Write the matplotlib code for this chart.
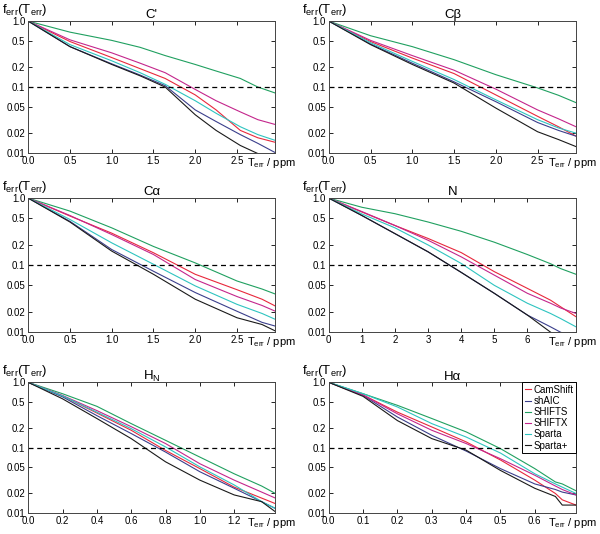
import numpy as np
import matplotlib
matplotlib.use("Agg")
import matplotlib.pyplot as plt

plt.rcParams['font.family'] = ['Liberation Sans', 'DejaVu Sans']
plt.rcParams['mathtext.fontset'] = 'custom'
plt.rcParams['mathtext.rm'] = 'Liberation Sans'
plt.rcParams['mathtext.it'] = 'Liberation Sans'

# series names and colours
methods = ["CamShift", "shAIC", "SHIFTS", "SHIFTX", "Sparta", "Sparta+"]
colors = ["#e8283c", "#3b3f8c", "#20a060", "#c4268c", "#2ec4c0", "#1a1a1a"]

# ---- C' ----
co_x        = [0.0, 0.5, 1.0, 1.34, 1.64, 2.0, 2.25, 2.54, 2.75, 2.96]
co_camshift = [1.0, 0.49, 0.28, 0.19, 0.135, 0.076, 0.045, 0.022, 0.017, 0.0145]
co_shaic    = [1.0, 0.41, 0.225, 0.152, 0.105, 0.045, 0.030, 0.019, 0.014, 0.0101]
co_shifts   = [1.0, 0.68, 0.51, 0.40, 0.30, 0.22, 0.175, 0.135, 0.10, 0.081]
co_shiftx   = [1.0, 0.52, 0.33, 0.23, 0.165, 0.092, 0.062, 0.042, 0.032, 0.027]
co_sparta   = [1.0, 0.44, 0.25, 0.165, 0.11, 0.062, 0.040, 0.025, 0.019, 0.0155]
co_spartap  = [1.0, 0.41, 0.22, 0.148, 0.10, 0.038, 0.022, 0.013, 0.0098, 0.0085]

# ---- Cbeta ----
cb_x        = [0.0, 0.5, 1.0, 1.5, 2.0, 2.5, 2.75, 2.96]
cb_camshift = [1.0, 0.49, 0.275, 0.16, 0.076, 0.036, 0.025, 0.018]
cb_shaic    = [1.0, 0.45, 0.23, 0.12, 0.060, 0.029, 0.022, 0.018]
cb_shifts   = [1.0, 0.60, 0.41, 0.26, 0.154, 0.097, 0.075, 0.058]
cb_shiftx   = [1.0, 0.51, 0.30, 0.18, 0.093, 0.045, 0.033, 0.025]
cb_sparta   = [1.0, 0.47, 0.245, 0.13, 0.064, 0.032, 0.024, 0.020]
cb_spartap  = [1.0, 0.44, 0.22, 0.115, 0.048, 0.021, 0.016, 0.0125]

# ---- Calpha ----
ca_x        = [0.0, 0.5, 1.0, 1.5, 2.0, 2.5, 2.8, 2.96]
ca_camshift = [1.0, 0.54, 0.30, 0.153, 0.073, 0.043, 0.031, 0.0245]
ca_shaic    = [1.0, 0.45, 0.171, 0.081, 0.039, 0.0205, 0.014, 0.0123]
ca_shifts   = [1.0, 0.64, 0.36, 0.19, 0.108, 0.058, 0.044, 0.037]
ca_shiftx   = [1.0, 0.55, 0.286, 0.144, 0.061, 0.034, 0.025, 0.0205]
ca_sparta   = [1.0, 0.48, 0.215, 0.103, 0.049, 0.026, 0.019, 0.0155]
ca_spartap  = [1.0, 0.44, 0.162, 0.073, 0.031, 0.0164, 0.013, 0.0104]

# ---- N ----
n_x         = [0.0, 1.0, 2.0, 3.0, 4.0, 5.0, 6.0, 6.7, 7.0, 7.47]
n_camshift  = [1.0, 0.62, 0.39, 0.25, 0.154, 0.080, 0.045, 0.030, 0.024, 0.017]
n_shaic     = [1.0, 0.55, 0.295, 0.158, 0.078, 0.038, 0.018, 0.012, 0.010, 0.008]
n_shifts    = [1.0, 0.73, 0.585, 0.44, 0.32, 0.22, 0.144, 0.105, 0.089, 0.073]
n_shiftx    = [1.0, 0.63, 0.39, 0.235, 0.133, 0.071, 0.038, 0.027, 0.023, 0.019]
n_sparta    = [1.0, 0.58, 0.36, 0.20, 0.106, 0.050, 0.027, 0.019, 0.016, 0.012]
n_spartap   = [1.0, 0.55, 0.295, 0.158, 0.078, 0.038, 0.018, 0.010, 0.008, 0.006]

# ---- HN ----
hn_x        = [0.0, 0.2, 0.4, 0.6, 0.8, 1.0, 1.2, 1.36, 1.44]
hn_camshift = [1.0, 0.62, 0.34, 0.185, 0.091, 0.048, 0.025, 0.017, 0.014]
hn_shaic    = [1.0, 0.60, 0.31, 0.165, 0.086, 0.043, 0.024, 0.015, 0.0118]
hn_shifts   = [1.0, 0.67, 0.43, 0.234, 0.13, 0.072, 0.040, 0.026, 0.020]
hn_shiftx   = [1.0, 0.63, 0.37, 0.21, 0.116, 0.057, 0.032, 0.021, 0.017]
hn_sparta   = [1.0, 0.62, 0.35, 0.196, 0.103, 0.051, 0.027, 0.015, 0.0118]
hn_spartap  = [1.0, 0.56, 0.28, 0.138, 0.061, 0.032, 0.019, 0.015, 0.0105]

# ---- Halpha ----
ha_x        = [0.0, 0.1, 0.2, 0.3, 0.4, 0.5, 0.6, 0.66, 0.68, 0.72]
ha_camshift = [1.0, 0.64, 0.35, 0.208, 0.123, 0.065, 0.032, 0.020, 0.016, 0.0133]
ha_shaic    = [1.0, 0.63, 0.295, 0.155, 0.089, 0.048, 0.028, 0.023, 0.021, 0.019]
ha_shifts   = [1.0, 0.67, 0.445, 0.28, 0.175, 0.097, 0.048, 0.030, 0.028, 0.022]
ha_shiftx   = [1.0, 0.64, 0.33, 0.185, 0.116, 0.068, 0.038, 0.026, 0.023, 0.019]
ha_sparta   = [1.0, 0.67, 0.42, 0.234, 0.146, 0.083, 0.040, 0.028, 0.025, 0.020]
ha_spartap  = [1.0, 0.61, 0.26, 0.138, 0.092, 0.045, 0.024, 0.018, 0.0133, 0.0133]

panels = [
    ("C'", co_x, [co_camshift, co_shaic, co_shifts, co_shiftx, co_sparta, co_spartap],
     2.96, [0.0, 0.5, 1.0, 1.5, 2.0, 2.5], "%.1f"),
    ("C\u03b2", cb_x, [cb_camshift, cb_shaic, cb_shifts, cb_shiftx, cb_sparta, cb_spartap],
     2.96, [0.0, 0.5, 1.0, 1.5, 2.0, 2.5], "%.1f"),
    ("C\u03b1", ca_x, [ca_camshift, ca_shaic, ca_shifts, ca_shiftx, ca_sparta, ca_spartap],
     2.96, [0.0, 0.5, 1.0, 1.5, 2.0, 2.5], "%.1f"),
    ("N", n_x, [n_camshift, n_shaic, n_shifts, n_shiftx, n_sparta, n_spartap],
     7.47, [0, 1, 2, 3, 4, 5, 6], "%d"),
    ("H$_\\mathrm{N}$", hn_x, [hn_camshift, hn_shaic, hn_shifts, hn_shiftx, hn_sparta, hn_spartap],
     1.44, [0.0, 0.2, 0.4, 0.6, 0.8, 1.0, 1.2], "%.1f"),
    ("H\u03b1", ha_x, [ha_camshift, ha_shaic, ha_shifts, ha_shiftx, ha_sparta, ha_spartap],
     0.72, [0.0, 0.1, 0.2, 0.3, 0.4, 0.5, 0.6], "%.1f"),
]

yticks = [1.0, 0.5, 0.2, 0.1, 0.05, 0.02, 0.01]
ytick_labels = ["1.0", "0.5", "0.2", "0.1", "0.05", "0.02", "0.01"]

fig = plt.figure(figsize=(6.0, 5.34), dpi=100)

# axes boxes in figure fractions (left, bottom, width, height)
lefts = [0.047, 0.548]
rows = [(0.7135, 0.247), (0.378, 0.251), (0.039, 0.245)]

for i, (title, xs, ys, xmax, xt, fmt) in enumerate(panels):
    r, c = divmod(i, 2)
    ax = fig.add_axes([lefts[c], rows[r][0], 0.412, rows[r][1]])
    for y, col, name in zip(ys, colors, methods):
        ax.plot(xs, y, color=col, lw=0.8, label=name)
    ax.axhline(0.1, color="black", lw=0.9, ls=(0, (4, 3)))
    ax.set_yscale("log")
    ax.set_ylim(0.01, 1.0)
    ax.set_xlim(0, xmax)
    ax.set_yticks(yticks)
    ax.set_yticklabels(ytick_labels)
    ax.minorticks_off()
    ax.set_xticks(xt)
    ax.set_xticklabels([fmt % v for v in xt])
    ax.tick_params(direction="in", length=3, width=0.6, labelsize=7,
                   top=True, right=True, pad=2)
    for s in ax.spines.values():
        s.set_linewidth(0.7)
        s.set_color("#444444")
    ax.set_title(title, fontsize=9.5, pad=2)
    ax.text(-0.107, 1.025, "f$_\\mathrm{err}$(T$_\\mathrm{err}$)",
            transform=ax.transAxes, ha="left", va="bottom", fontsize=9.5)
    ax.annotate("T$_\\mathrm{err}$ / ppm", xy=(0.885, 0), xycoords="axes fraction",
                xytext=(0, -2), textcoords="offset points",
                ha="left", va="top", fontsize=8)
    if i == 5:
        leg = ax.legend(loc="upper right", fontsize=7, handlelength=0.6,
                        handletextpad=0.3, labelspacing=0.12, borderpad=0.25,
                        borderaxespad=0.0, fancybox=False, framealpha=1)
        leg.get_frame().set_edgecolor("black")
        leg.get_frame().set_linewidth(0.7)

plt.savefig("out.png", dpi=100)
